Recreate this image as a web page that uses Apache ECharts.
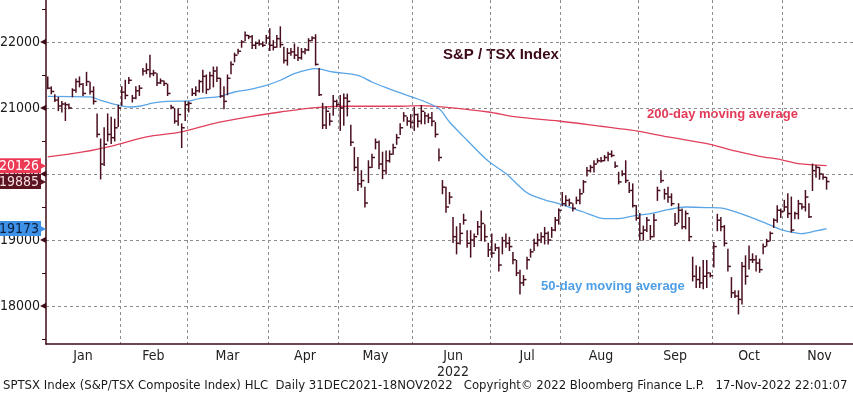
<!DOCTYPE html>
<html>
<head>
<meta charset="utf-8">
<script src="https://cdn.jsdelivr.net/npm/echarts@6/dist/echarts.min.js"></script>
<style>
  html, body { margin: 0; padding: 0; background: #fff; }
  #chart { width: 853px; height: 396px; }
</style>
</head>
<body>
<div id="chart"></div>
<script>
// TSX holidays, used to build the trading-day categories
const holidays = ['2022-01-03', '2022-02-21', '2022-04-15', '2022-05-23', '2022-07-01', '2022-08-01', '2022-09-05', '2022-10-10']
const monthNames = ['Jan', 'Feb', 'Mar', 'Apr', 'May', 'Jun', 'Jul', 'Aug', 'Sep', 'Oct', 'Nov']
const yTicks = [18000, 19000, 20000, 21000, 22000]
const yMinorTicks = [17500, 18500, 19500, 20500, 21500, 22500]

// daily high / low / close, 31 Dec 2021 - 17 Nov 2022
const highs = [
  21470, 21320, 21200, 21160, 21100, 21080, 21060, 21290, 21440, 21470, 21370, 21540, 21390, 21320, 20910, 20530, 20700, 20910, 20860, 20830, 21040,
  21320, 21420, 21460, 21190, 21320, 21340, 21600, 21670, 21800, 21570, 21520, 21440, 21410, 21360, 21040, 20990, 20990, 20760, 21100,
  21090, 21290, 21320, 21420, 21570, 21500, 21540, 21620, 21620, 21450, 21320, 21500, 21700, 21830, 21890, 22020, 22150, 22100, 22100, 22000, 22030, 22000, 22100,
  22200, 22020, 22100, 22230, 21920, 21900, 21900, 21970, 21920, 21900, 21900, 22050, 22080, 22110, 21600, 21070, 21020, 20920, 21190, 21120,
  21190, 21210, 21210, 20740, 20400, 20250, 20050, 19800, 20200, 20300, 20530, 20500, 20330, 20350, 20350, 20450, 20600, 20760, 20930, 20860, 20900,
  21010, 20910, 21035, 20930, 20910, 20930, 20780, 20380, 19900, 19800, 19720, 19340, 19200, 19250, 19390, 19140, 19140, 19090, 19280, 19440, 19230, 18950,
  19090, 18940, 18890, 19040, 19090, 19040, 18810, 18690, 18540, 18460, 18740, 18860, 19010, 19090, 19110, 19190, 19120, 19190, 19340, 19470,
  19720, 19670, 19620, 19550, 19650, 19770, 19900, 20100, 20130, 20200, 20230, 20250, 20280, 20330, 20350, 20180, 20025, 20050, 20200, 19870, 19850, 19520,
  19400, 19210, 19340, 19220, 19390, 19800, 20050, 19770, 19800, 19700, 19400, 19550, 19470, 19440, 19340, 18740, 18610, 18590, 18690, 18690, 18500,
  18960, 19390, 19340, 19220, 18860, 18430, 18230, 18230, 18660, 18760, 18910, 18790, 18760, 18710, 18940, 19010, 19120, 19320, 19520, 19470,
  19600, 19700, 19650, 19420, 19600, 19550, 19750, 19550, 20150, 20130, 20100, 20000, 19950
]
const lows = [
  21290, 21215, 21100, 20960, 20940, 20810, 20990, 21170, 21240, 21320, 21190, 21340, 21210, 21060, 20560, 19925, 20130, 20500, 20460, 20500, 20720,
  21040, 21140, 21370, 21090, 21140, 21190, 21500, 21520, 21470, 21490, 21340, 21370, 21340, 21190, 20990, 20770, 20740, 20400, 20810,
  20940, 21190, 21190, 21240, 21240, 21220, 21290, 21320, 21400, 21160, 20990, 21200, 21520, 21700, 21820, 21920, 22020, 22050, 21900, 21900, 21950, 21930, 21980,
  21870, 21880, 21920, 21920, 21680, 21650, 21800, 21750, 21720, 21740, 21820, 21870, 22020, 21650, 21190, 20690, 20690, 20740, 20890, 21020,
  20660, 20740, 20880, 20430, 20050, 19750, 19800, 19500, 19870, 20100, 20380, 20080, 19930, 20000, 20180, 20300, 20450, 20600, 20800, 20740, 20700,
  20660, 20710, 20760, 20760, 20780, 20730, 20560, 20200, 19700, 19420, 19550, 18960, 18790, 18940, 19240, 18890, 18740, 18900, 19080, 18990, 18980, 18750,
  18740, 18840, 18530, 18790, 18890, 18840, 18640, 18460, 18180, 18310, 18560, 18740, 18840, 18910, 18960, 18940, 18940, 19040, 19140, 19240,
  19520, 19520, 19520, 19440, 19550, 19550, 19720, 19970, 20030, 20030, 20170, 20180, 20200, 20200, 20260, 20100, 19850, 19975, 19870, 19720, 19500, 19300,
  19000, 19000, 19130, 19010, 19050, 19600, 19870, 19620, 19570, 19520, 19220, 19270, 19170, 19170, 18990, 18380, 18280, 18280, 18260, 18280, 18440,
  18590, 19140, 19140, 18910, 18530, 18130, 18130, 17880, 18030, 18330, 18560, 18660, 18530, 18510, 18790, 18910, 18990, 19190, 19270, 19340,
  19440, 19340, 19120, 19320, 19320, 19470, 19440, 19340, 19750, 19950, 19920, 19920, 19770
]
const closes = [
  21300, 21250, 21120, 21030, 21060, 21050, 21000, 21270, 21400, 21360, 21220, 21400, 21250, 21100, 20600, 20150, 20450, 20600, 20550, 20700, 21000,
  21240, 21190, 21420, 21150, 21260, 21300, 21560, 21580, 21520, 21530, 21380, 21410, 21370, 21220, 21010, 20800, 20900, 20700, 21050,
  21070, 21220, 21260, 21400, 21480, 21280, 21490, 21560, 21450, 21180, 21100, 21450, 21660, 21800, 21860, 22000, 22100, 22080, 21950, 21980, 21970, 21950, 22060,
  21950, 21920, 22050, 21960, 21720, 21830, 21850, 21800, 21760, 21850, 21880, 22020, 22060, 21660, 21200, 20740, 20950, 20800, 21100, 21050,
  21000, 21150, 21100, 20480, 20100, 19850, 19900, 19560, 20100, 20250, 20480, 20150, 20050, 20200, 20300, 20400, 20550, 20700, 20880, 20800, 20780,
  20900, 20800, 20950, 20880, 20850, 20800, 20600, 20250, 19800, 19500, 19650, 19050, 18950, 19100, 19300, 18950, 19000, 19050, 19200, 19250, 19050, 18850,
  18800, 18880, 18620, 18990, 18950, 18900, 18700, 18500, 18350, 18400, 18700, 18820, 18950, 19000, 19050, 19100, 19000, 19150, 19300, 19450,
  19550, 19600, 19560, 19480, 19600, 19700, 19880, 20050, 20100, 20150, 20200, 20200, 20250, 20300, 20280, 20120, 19880, 20000, 19900, 19750, 19520, 19330,
  19100, 19150, 19300, 19050, 19300, 19750, 19900, 19700, 19650, 19550, 19250, 19450, 19200, 19400, 19050, 18450, 18400, 18350, 18450, 18500, 18460,
  18900, 19300, 19200, 18950, 18600, 18200, 18150, 18100, 18600, 18450, 18700, 18700, 18650, 18550, 18900, 18980, 19100, 19300, 19450, 19430,
  19500, 19400, 19150, 19400, 19550, 19500, 19650, 19350, 20050, 20100, 20000, 19950, 19885
]

// moving averages at these trading-day indices
const ma50Idx = [0, 12, 15, 19, 23, 26, 30, 34, 40, 43, 49, 53, 57, 62, 66, 70, 76, 81, 88, 92, 96, 102, 106, 111, 114, 119, 125, 130, 136, 141, 145, 152, 158, 162, 167, 171, 176, 181, 187, 192, 198, 204, 208, 211, 214, 218, 221]
const ma50 = [21177, 21167, 21117, 21056, 21015, 21026, 21076, 21101, 21106, 21142, 21177, 21242, 21279, 21344, 21420, 21520, 21597, 21545, 21495, 21394, 21309, 21192, 21117, 20991, 20788, 20511, 20195, 20006, 19715, 19607, 19551, 19424, 19324, 19324, 19374, 19400, 19460, 19500, 19491, 19476, 19374, 19249, 19158, 19121, 19097, 19137, 19173]
const ma200Idx = [0, 10, 19, 28, 38, 47, 57, 66, 76, 86, 100, 106, 114, 125, 133, 145, 157, 162, 167, 176, 188, 195, 202, 208, 213, 221]
const ma200 = [20258, 20334, 20435, 20561, 20637, 20763, 20864, 20939, 21006, 21026, 21026, 21036, 21006, 20939, 20864, 20803, 20723, 20688, 20652, 20561, 20450, 20349, 20268, 20218, 20158, 20126]

// trading days
const tradingDays = []
for (let d = new Date(Date.UTC(2021, 11, 31)); d <= new Date(Date.UTC(2022, 10, 17)); d.setUTCDate(d.getUTCDate() + 1)) {
  const s = d.toISOString().slice(0, 10)
  const wd = d.getUTCDay()
  if (wd === 0 || wd === 6 || holidays.includes(s)) continue
  tradingDays.push(s)
}
const categories = tradingDays.slice()
for (let k = 0; categories.length < 229; k++) categories.push('pad' + k)

// month boundaries and label positions
const monthStart = []
tradingDays.forEach((s, i) => {
  const m = s.startsWith('2021') ? 0 : +s.slice(5, 7) - 1
  if (monthStart[m] === undefined) monthStart[m] = i
})
const boundaryIdx = monthStart.slice(1)
const labelText = {}
monthStart.forEach((st, m) => {
  const end = m < monthStart.length - 1 ? monthStart[m + 1] - 1 : categories.length - 1
  labelText[Math.ceil((st + end) / 2)] = monthNames[m] === 'Jun' ? 'Jun\n2022' : monthNames[m]
})

const last200 = ma200[ma200.length - 1]
const lastClose = closes[closes.length - 1]
const last50 = ma50[ma50.length - 1]

const narrow = "'Liberation Sans Narrow', 'DejaVu Sans Condensed', sans-serif"
const barColor = '#4a0f1e'
const yMin = 17424
const yMax = 22636

// tag style for the last-value boxes on the price axis
const tag = (bg, fg) => ({ fontFamily: narrow, fontSize: 14, lineHeight: 15, color: fg, backgroundColor: bg, padding: [1, 2, 0, 3] })
const tagArrow = (bg) => ({ fontSize: 8, color: bg, padding: [0, 0, 0, -1] })

const chart = echarts.init(document.getElementById('chart'), null, { renderer: 'canvas' })
chart.setOption({
  animation: false,
  backgroundColor: '#fff',
  grid: { left: 46, right: 0, top: 0, bottom: 52, containLabel: false, outerBoundsMode: 'none' },
  xAxis: {
    type: 'category',
    data: categories,
    boundaryGap: true,
    axisLine: { lineStyle: { color: '#3d0b17', width: 1.5 } },
    axisTick: { interval: (i) => boundaryIdx.includes(i), length: 5, lineStyle: { color: '#666' } },
    axisLabel: {
      interval: (i) => labelText[i] !== undefined,
      formatter: (v, i) => labelText[i] || '',
      fontFamily: narrow, fontSize: 14, color: '#222', margin: 4, lineHeight: 16
    },
    splitLine: { show: true, interval: (i) => boundaryIdx.includes(i), lineStyle: { color: '#8c8c8c', type: [3, 3] } }
  },
  yAxis: [
    {
      type: 'value', min: yMin, max: yMax, position: 'left',
      axisLine: { show: true, lineStyle: { color: '#3d0b17', width: 1.5 } },
      axisTick: { show: false, customValues: yTicks },
      axisLabel: {
        customValues: yTicks, margin: 0,
        formatter: (v) => '{v|' + v + '}{t|◀}',
        rich: {
          v: { fontFamily: narrow, fontSize: 14, color: '#1a1a1a' },
          t: { fontSize: 8, color: '#3d0b17' }
        }
      },
      splitLine: { show: true, lineStyle: { color: '#8c8c8c', type: [3, 3] } }
    },
    {
      type: 'value', min: yMin, max: yMax, position: 'left',
      axisLine: { show: false },
      axisTick: { show: true, customValues: yMinorTicks, length: 4, lineStyle: { color: '#3d0b17' } },
      axisLabel: { show: false },
      splitLine: { show: false }
    },
    {
      type: 'value', min: yMin, max: yMax, position: 'left',
      axisLine: { show: false },
      axisTick: { show: false },
      splitLine: { show: false },
      axisLabel: {
        customValues: [last50, last200, lastClose], margin: 0,
        formatter: (v) => {
          if (v === last200) return '{r|' + v + '}{ra|▶}'
          if (v === lastClose) return '{m|' + v + '}{ma|▶}'
          return '{b|' + v + '}{ba|▶}'
        },
        rich: {
          r: tag('#ec3a55', '#fff'),
          ra: tagArrow('#ec3a55'),
          m: tag('#5b1422', '#f6dede'),
          ma: tagArrow('#5b1422'),
          b: tag('#3d91e6', '#0b1d3a'),
          ba: tagArrow('#3d91e6')
        }
      }
    }
  ],
  series: [
    {
      name: '200-day',
      type: 'line',
      data: ma200Idx.map((i, k) => [i, ma200[k]]),
      showSymbol: false,
      smooth: 0.3,
      lineStyle: { color: '#e0405c', width: 1.3 },
      z: 1
    },
    {
      name: '50-day',
      type: 'line',
      data: ma50Idx.map((i, k) => [i, ma50[k]]),
      showSymbol: false,
      smooth: 0.3,
      lineStyle: { color: '#5aa5e6', width: 1.3 },
      z: 1
    },
    {
      name: 'SPTSX',
      type: 'custom',
      z: 3,
      data: tradingDays.map((d, i) => [i, highs[i], lows[i], closes[i]]),
      encode: { x: 0, y: [1, 2, 3] },
      renderItem: function (params, api) {
        const hi = api.coord([api.value(0), api.value(1)])
        const lo = api.coord([api.value(0), api.value(2)])
        const cl = api.coord([api.value(0), api.value(3)])
        const st = { stroke: barColor, lineWidth: 1.5 }
        return {
          type: 'group',
          children: [
            { type: 'line', shape: { x1: hi[0], y1: hi[1] - 0.5, x2: lo[0], y2: lo[1] + 0.5 }, style: st },
            { type: 'line', shape: { x1: cl[0], y1: cl[1], x2: cl[0] + 3, y2: cl[1] }, style: st }
          ]
        }
      }
    }
  ],
  graphic: [
    {
      type: 'text', left: 443, top: 47,
      style: { text: 'S&P / TSX Index', font: 'bold 15px "Liberation Sans", Arial, sans-serif', fill: '#3d0b17' }
    },
    {
      type: 'text', left: 647, top: 108,
      style: { text: '200-day moving average', font: 'bold 13px "Liberation Sans", Arial, sans-serif', fill: '#e23b58' }
    },
    {
      type: 'text', left: 541, top: 280,
      style: { text: '50-day moving average', font: 'bold 13px "Liberation Sans", Arial, sans-serif', fill: '#4f9fe6' }
    },
    {
      type: 'text', left: 3, top: 379,
      style: {
        text: 'SPTSX Index (S&P/TSX Composite Index) HLC  Daily 31DEC2021-18NOV2022   Copyright© 2022 Bloomberg Finance L.P.   17-Nov-2022 22:01:07',
        font: "13px 'DejaVu Sans Condensed', 'Liberation Sans Narrow', sans-serif", fill: '#1a1a1a'
      }
    }
  ]
})
</script>
</body>
</html>
